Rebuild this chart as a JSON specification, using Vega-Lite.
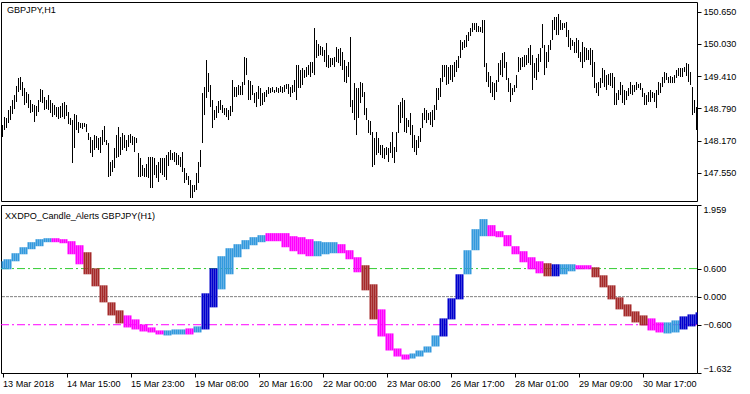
{
"$schema":"https://vega.github.io/schema/vega-lite/v6.json",
"padding":{"left":0,"top":1,"right":0,"bottom":0},
"background":"white",
"bounds":"flush",
"spacing":4,
"config":{"view":{"stroke":"black","strokeWidth":1},"font":"Liberation Sans",
"axis":{"labelFont":"Liberation Sans","labelFontSize":9.1,"labelColor":"black","tickColor":"black","grid":false,"domain":false,"tickSize":4,"labelPadding":2,"labelOverlap":false,"title":null},
"text":{"font":"Liberation Sans","fontSize":9.1,"color":"black"}},
"data":{"values":[
{"i":0,"h":148.469,"l":148.238,"o":0.585,"c":0.756,"s":"up"},
{"i":1,"h":148.623,"l":148.373,"o":0.585,"c":0.799,"s":"up"},
{"i":2,"h":148.604,"l":148.411,"o":0.585,"c":0.799,"s":"up"},
{"i":3,"h":148.758,"l":148.507,"o":0.585,"c":0.799,"s":"up"},
{"i":4,"h":148.835,"l":148.565,"o":0.585,"c":0.799,"s":"up"},
{"i":5,"h":148.950,"l":148.681,"o":0.756,"c":0.928,"s":"up"},
{"i":6,"h":149.046,"l":148.777,"o":0.756,"c":0.928,"s":"up"},
{"i":7,"h":149.220,"l":148.912,"o":0.756,"c":0.928,"s":"up"},
{"i":8,"h":149.374,"l":149.104,"o":0.756,"c":0.928,"s":"up"},
{"i":9,"h":149.393,"l":149.143,"o":0.906,"c":1.056,"s":"up"},
{"i":10,"h":149.297,"l":149.027,"o":0.906,"c":1.056,"s":"up"},
{"i":11,"h":149.181,"l":148.854,"o":0.906,"c":1.056,"s":"up"},
{"i":12,"h":149.104,"l":148.892,"o":0.906,"c":1.056,"s":"up"},
{"i":13,"h":149.066,"l":148.796,"o":1.014,"c":1.164,"s":"up"},
{"i":14,"h":148.950,"l":148.700,"o":1.014,"c":1.164,"s":"up"},
{"i":15,"h":148.873,"l":148.719,"o":1.014,"c":1.164,"s":"up"},
{"i":16,"h":148.854,"l":148.527,"o":1.014,"c":1.164,"s":"up"},
{"i":17,"h":148.835,"l":148.642,"o":1.078,"c":1.228,"s":"up"},
{"i":18,"h":148.950,"l":148.719,"o":1.078,"c":1.228,"s":"up"},
{"i":19,"h":149.162,"l":148.912,"o":1.078,"c":1.228,"s":"up"},
{"i":20,"h":149.143,"l":148.892,"o":1.078,"c":1.228,"s":"up"},
{"i":21,"h":149.008,"l":148.758,"o":1.164,"c":1.249,"s":"up"},
{"i":22,"h":148.950,"l":148.777,"o":1.164,"c":1.249,"s":"up"},
{"i":23,"h":149.046,"l":148.758,"o":1.164,"c":1.249,"s":"up"},
{"i":24,"h":148.950,"l":148.700,"o":1.164,"c":1.249,"s":"up"},
{"i":25,"h":148.892,"l":148.623,"o":1.249,"c":1.164,"s":"dn"},
{"i":26,"h":148.854,"l":148.661,"o":1.249,"c":1.164,"s":"dn"},
{"i":27,"h":148.815,"l":148.623,"o":1.249,"c":1.164,"s":"dn"},
{"i":28,"h":148.815,"l":148.584,"o":1.249,"c":1.164,"s":"dn"},
{"i":29,"h":148.835,"l":148.604,"o":1.228,"c":1.142,"s":"dn"},
{"i":30,"h":148.892,"l":148.623,"o":1.228,"c":1.142,"s":"dn"},
{"i":31,"h":148.912,"l":148.584,"o":1.228,"c":1.142,"s":"dn"},
{"i":32,"h":148.854,"l":148.642,"o":1.228,"c":1.142,"s":"dn"},
{"i":33,"h":148.719,"l":148.488,"o":1.185,"c":0.906,"s":"dn"},
{"i":34,"h":148.604,"l":148.469,"o":1.185,"c":0.906,"s":"dn"},
{"i":35,"h":148.565,"l":147.737,"o":1.185,"c":0.906,"s":"dn"},
{"i":36,"h":148.681,"l":148.026,"o":1.185,"c":0.906,"s":"dn"},
{"i":37,"h":148.661,"l":148.373,"o":1.099,"c":0.692,"s":"dn"},
{"i":38,"h":148.527,"l":148.315,"o":1.099,"c":0.692,"s":"dn"},
{"i":39,"h":148.507,"l":148.411,"o":1.099,"c":0.692,"s":"dn"},
{"i":40,"h":148.507,"l":148.392,"o":1.099,"c":0.692,"s":"dn"},
{"i":41,"h":148.507,"l":148.430,"o":0.949,"c":0.478,"s":"dn2"},
{"i":42,"h":148.488,"l":148.334,"o":0.949,"c":0.478,"s":"dn2"},
{"i":43,"h":148.315,"l":148.180,"o":0.949,"c":0.478,"s":"dn2"},
{"i":44,"h":148.238,"l":147.930,"o":0.949,"c":0.478,"s":"dn2"},
{"i":45,"h":148.180,"l":147.853,"o":0.606,"c":0.221,"s":"dn2"},
{"i":46,"h":148.276,"l":147.988,"o":0.606,"c":0.221,"s":"dn2"},
{"i":47,"h":148.257,"l":148.026,"o":0.606,"c":0.221,"s":"dn2"},
{"i":48,"h":148.219,"l":147.988,"o":0.606,"c":0.221,"s":"dn2"},
{"i":49,"h":148.238,"l":147.930,"o":0.242,"c":-0.122,"s":"dn2"},
{"i":50,"h":148.373,"l":148.084,"o":0.242,"c":-0.122,"s":"dn2"},
{"i":51,"h":148.450,"l":148.142,"o":0.242,"c":-0.122,"s":"dn2"},
{"i":52,"h":148.180,"l":148.084,"o":0.242,"c":-0.122,"s":"dn2"},
{"i":53,"h":148.122,"l":147.468,"o":-0.122,"c":-0.401,"s":"dn2"},
{"i":54,"h":147.757,"l":147.487,"o":-0.122,"c":-0.401,"s":"dn2"},
{"i":55,"h":147.795,"l":147.564,"o":-0.122,"c":-0.401,"s":"dn2"},
{"i":56,"h":148.026,"l":147.641,"o":-0.122,"c":-0.401,"s":"dn2"},
{"i":57,"h":148.276,"l":147.834,"o":-0.293,"c":-0.572,"s":"dn2"},
{"i":58,"h":148.430,"l":147.853,"o":-0.293,"c":-0.572,"s":"dn2"},
{"i":59,"h":148.238,"l":147.891,"o":-0.293,"c":-0.572,"s":"dn2"},
{"i":60,"h":148.315,"l":147.988,"o":-0.293,"c":-0.572,"s":"dn2"},
{"i":61,"h":148.276,"l":148.026,"o":-0.401,"c":-0.658,"s":"dn"},
{"i":62,"h":148.180,"l":147.968,"o":-0.401,"c":-0.658,"s":"dn"},
{"i":63,"h":148.276,"l":148.045,"o":-0.401,"c":-0.658,"s":"dn"},
{"i":64,"h":148.296,"l":148.122,"o":-0.401,"c":-0.658,"s":"dn"},
{"i":65,"h":148.257,"l":148.084,"o":-0.486,"c":-0.701,"s":"dn"},
{"i":66,"h":148.238,"l":147.949,"o":-0.486,"c":-0.701,"s":"dn"},
{"i":67,"h":148.219,"l":148.122,"o":-0.486,"c":-0.701,"s":"dn"},
{"i":68,"h":147.930,"l":147.468,"o":-0.486,"c":-0.701,"s":"dn"},
{"i":69,"h":147.834,"l":147.468,"o":-0.594,"c":-0.744,"s":"dn"},
{"i":70,"h":147.699,"l":147.487,"o":-0.594,"c":-0.744,"s":"dn"},
{"i":71,"h":147.641,"l":147.468,"o":-0.594,"c":-0.744,"s":"dn"},
{"i":72,"h":147.718,"l":147.468,"o":-0.594,"c":-0.744,"s":"dn"},
{"i":73,"h":147.853,"l":147.449,"o":-0.658,"c":-0.765,"s":"dn"},
{"i":74,"h":147.853,"l":147.256,"o":-0.658,"c":-0.765,"s":"dn"},
{"i":75,"h":147.853,"l":147.256,"o":-0.658,"c":-0.765,"s":"dn"},
{"i":76,"h":147.834,"l":147.506,"o":-0.658,"c":-0.765,"s":"dn"},
{"i":77,"h":147.699,"l":147.449,"o":-0.722,"c":-0.808,"s":"dn"},
{"i":78,"h":147.757,"l":147.372,"o":-0.722,"c":-0.808,"s":"dn"},
{"i":79,"h":147.834,"l":147.545,"o":-0.722,"c":-0.808,"s":"dn"},
{"i":80,"h":147.834,"l":147.506,"o":-0.722,"c":-0.808,"s":"dn"},
{"i":81,"h":147.834,"l":147.468,"o":-0.829,"c":-0.722,"s":"up"},
{"i":82,"h":147.891,"l":147.410,"o":-0.829,"c":-0.722,"s":"up"},
{"i":83,"h":147.949,"l":147.680,"o":-0.829,"c":-0.722,"s":"up"},
{"i":84,"h":147.988,"l":147.795,"o":-0.829,"c":-0.722,"s":"up"},
{"i":85,"h":147.930,"l":147.795,"o":-0.808,"c":-0.701,"s":"up"},
{"i":86,"h":147.949,"l":147.757,"o":-0.808,"c":-0.701,"s":"up"},
{"i":87,"h":147.930,"l":147.699,"o":-0.808,"c":-0.701,"s":"up"},
{"i":88,"h":147.891,"l":147.699,"o":-0.808,"c":-0.701,"s":"up"},
{"i":89,"h":147.853,"l":147.660,"o":-0.808,"c":-0.701,"s":"up"},
{"i":90,"h":147.949,"l":147.564,"o":-0.808,"c":-0.701,"s":"up"},
{"i":91,"h":147.641,"l":147.352,"o":-0.808,"c":-0.701,"s":"up"},
{"i":92,"h":147.545,"l":147.410,"o":-0.679,"c":-0.808,"s":"dn"},
{"i":93,"h":147.487,"l":147.314,"o":-0.679,"c":-0.808,"s":"dn"},
{"i":94,"h":147.410,"l":147.064,"o":-0.679,"c":-0.808,"s":"dn"},
{"i":95,"h":147.314,"l":147.064,"o":-0.679,"c":-0.808,"s":"dn"},
{"i":96,"h":147.314,"l":147.179,"o":-0.765,"c":-0.636,"s":"up"},
{"i":97,"h":147.545,"l":147.218,"o":-0.765,"c":-0.636,"s":"up"},
{"i":98,"h":147.757,"l":147.352,"o":-0.765,"c":-0.636,"s":"up"},
{"i":99,"h":147.988,"l":147.660,"o":-0.765,"c":-0.636,"s":"up"},
{"i":100,"h":149.085,"l":148.122,"o":-0.701,"c":0.071,"s":"up2"},
{"i":101,"h":149.200,"l":148.661,"o":-0.701,"c":0.071,"s":"up2"},
{"i":102,"h":149.720,"l":148.989,"o":-0.701,"c":0.071,"s":"up2"},
{"i":103,"h":149.470,"l":149.104,"o":-0.701,"c":0.071,"s":"up2"},
{"i":104,"h":149.239,"l":148.815,"o":-0.229,"c":0.606,"s":"up2"},
{"i":105,"h":148.950,"l":148.411,"o":-0.229,"c":0.606,"s":"up2"},
{"i":106,"h":148.758,"l":148.565,"o":-0.229,"c":0.606,"s":"up2"},
{"i":107,"h":148.835,"l":148.604,"o":-0.229,"c":0.606,"s":"up2"},
{"i":108,"h":148.931,"l":148.700,"o":0.156,"c":0.864,"s":"up"},
{"i":109,"h":148.950,"l":148.758,"o":0.156,"c":0.864,"s":"up"},
{"i":110,"h":148.854,"l":148.700,"o":0.156,"c":0.864,"s":"up"},
{"i":111,"h":148.796,"l":148.661,"o":0.156,"c":0.864,"s":"up"},
{"i":112,"h":148.796,"l":148.623,"o":0.478,"c":1.035,"s":"up"},
{"i":113,"h":148.758,"l":148.565,"o":0.478,"c":1.035,"s":"up"},
{"i":114,"h":148.835,"l":148.642,"o":0.478,"c":1.035,"s":"up"},
{"i":115,"h":149.335,"l":148.719,"o":0.478,"c":1.035,"s":"up"},
{"i":116,"h":149.200,"l":149.008,"o":0.842,"c":1.121,"s":"up"},
{"i":117,"h":149.200,"l":149.008,"o":0.842,"c":1.121,"s":"up"},
{"i":118,"h":149.239,"l":149.046,"o":0.842,"c":1.121,"s":"up"},
{"i":119,"h":149.220,"l":149.046,"o":0.842,"c":1.121,"s":"up"},
{"i":120,"h":149.297,"l":149.046,"o":1.014,"c":1.207,"s":"up"},
{"i":121,"h":149.778,"l":149.239,"o":1.014,"c":1.207,"s":"up"},
{"i":122,"h":149.759,"l":149.431,"o":1.014,"c":1.207,"s":"up"},
{"i":123,"h":149.335,"l":148.950,"o":1.014,"c":1.207,"s":"up"},
{"i":124,"h":149.316,"l":148.950,"o":1.099,"c":1.271,"s":"up"},
{"i":125,"h":149.239,"l":149.046,"o":1.099,"c":1.271,"s":"up"},
{"i":126,"h":149.085,"l":148.892,"o":1.099,"c":1.271,"s":"up"},
{"i":127,"h":149.104,"l":148.815,"o":1.099,"c":1.271,"s":"up"},
{"i":128,"h":149.220,"l":148.969,"o":1.164,"c":1.314,"s":"up"},
{"i":129,"h":149.181,"l":148.835,"o":1.164,"c":1.314,"s":"up"},
{"i":130,"h":149.085,"l":148.854,"o":1.164,"c":1.314,"s":"up"},
{"i":131,"h":149.104,"l":148.912,"o":1.164,"c":1.314,"s":"up"},
{"i":132,"h":149.143,"l":149.008,"o":1.357,"c":1.185,"s":"dn"},
{"i":133,"h":149.200,"l":149.066,"o":1.357,"c":1.185,"s":"dn"},
{"i":134,"h":149.181,"l":149.085,"o":1.357,"c":1.185,"s":"dn"},
{"i":135,"h":149.200,"l":149.104,"o":1.357,"c":1.185,"s":"dn"},
{"i":136,"h":149.143,"l":149.085,"o":1.357,"c":1.185,"s":"dn"},
{"i":137,"h":149.200,"l":149.104,"o":1.357,"c":1.185,"s":"dn"},
{"i":138,"h":149.181,"l":149.085,"o":1.357,"c":1.185,"s":"dn"},
{"i":139,"h":149.220,"l":149.104,"o":1.357,"c":1.185,"s":"dn"},
{"i":140,"h":149.200,"l":149.085,"o":1.357,"c":1.056,"s":"dn"},
{"i":141,"h":149.239,"l":149.104,"o":1.357,"c":1.056,"s":"dn"},
{"i":142,"h":149.258,"l":149.162,"o":1.357,"c":1.056,"s":"dn"},
{"i":143,"h":149.258,"l":149.066,"o":1.357,"c":1.056,"s":"dn"},
{"i":144,"h":149.200,"l":149.008,"o":1.292,"c":0.971,"s":"dn"},
{"i":145,"h":149.239,"l":149.085,"o":1.292,"c":0.971,"s":"dn"},
{"i":146,"h":149.335,"l":149.104,"o":1.292,"c":0.971,"s":"dn"},
{"i":147,"h":149.624,"l":148.950,"o":1.292,"c":0.971,"s":"dn"},
{"i":148,"h":149.624,"l":149.181,"o":1.271,"c":0.906,"s":"dn"},
{"i":149,"h":149.528,"l":149.181,"o":1.271,"c":0.906,"s":"dn"},
{"i":150,"h":149.566,"l":149.239,"o":1.271,"c":0.906,"s":"dn"},
{"i":151,"h":149.528,"l":149.374,"o":1.271,"c":0.906,"s":"dn"},
{"i":152,"h":149.585,"l":149.393,"o":1.228,"c":0.864,"s":"dn"},
{"i":153,"h":149.624,"l":149.431,"o":1.228,"c":0.864,"s":"dn"},
{"i":154,"h":149.682,"l":149.393,"o":1.228,"c":0.864,"s":"dn"},
{"i":155,"h":149.682,"l":149.470,"o":1.228,"c":0.864,"s":"dn"},
{"i":156,"h":150.336,"l":149.431,"o":0.864,"c":1.185,"s":"up"},
{"i":157,"h":150.105,"l":149.759,"o":0.864,"c":1.185,"s":"up"},
{"i":158,"h":150.028,"l":149.797,"o":0.864,"c":1.185,"s":"up"},
{"i":159,"h":149.990,"l":149.816,"o":0.864,"c":1.185,"s":"up"},
{"i":160,"h":149.970,"l":149.797,"o":0.906,"c":1.164,"s":"up"},
{"i":161,"h":149.913,"l":149.682,"o":0.906,"c":1.164,"s":"up"},
{"i":162,"h":150.047,"l":149.585,"o":0.906,"c":1.164,"s":"up"},
{"i":163,"h":149.816,"l":149.566,"o":0.906,"c":1.164,"s":"up"},
{"i":164,"h":149.759,"l":149.585,"o":0.928,"c":1.164,"s":"up"},
{"i":165,"h":149.759,"l":149.624,"o":0.928,"c":1.164,"s":"up"},
{"i":166,"h":149.778,"l":149.585,"o":0.928,"c":1.164,"s":"up"},
{"i":167,"h":149.970,"l":149.682,"o":0.928,"c":1.164,"s":"up"},
{"i":168,"h":149.932,"l":149.662,"o":1.121,"c":0.928,"s":"dn"},
{"i":169,"h":149.951,"l":149.605,"o":1.121,"c":0.928,"s":"dn"},
{"i":170,"h":149.874,"l":149.528,"o":1.121,"c":0.928,"s":"dn"},
{"i":171,"h":149.720,"l":149.297,"o":1.121,"c":0.928,"s":"dn"},
{"i":172,"h":149.605,"l":149.277,"o":0.992,"c":0.799,"s":"dn"},
{"i":173,"h":149.682,"l":149.393,"o":0.992,"c":0.799,"s":"dn"},
{"i":174,"h":150.163,"l":148.815,"o":0.992,"c":0.799,"s":"dn"},
{"i":175,"h":148.950,"l":148.700,"o":0.992,"c":0.799,"s":"dn"},
{"i":176,"h":149.277,"l":148.565,"o":0.842,"c":0.521,"s":"dn"},
{"i":177,"h":149.181,"l":148.276,"o":0.842,"c":0.521,"s":"dn"},
{"i":178,"h":149.181,"l":148.604,"o":0.842,"c":0.521,"s":"dn"},
{"i":179,"h":149.297,"l":148.892,"o":0.842,"c":0.521,"s":"dn"},
{"i":180,"h":149.277,"l":149.008,"o":0.671,"c":0.135,"s":"dn2"},
{"i":181,"h":149.104,"l":148.661,"o":0.671,"c":0.135,"s":"dn2"},
{"i":182,"h":148.796,"l":148.565,"o":0.671,"c":0.135,"s":"dn2"},
{"i":183,"h":148.565,"l":148.315,"o":0.671,"c":0.135,"s":"dn2"},
{"i":184,"h":148.546,"l":148.276,"o":0.264,"c":-0.486,"s":"dn2"},
{"i":185,"h":148.334,"l":147.660,"o":0.264,"c":-0.486,"s":"dn2"},
{"i":186,"h":148.219,"l":147.699,"o":0.264,"c":-0.486,"s":"dn2"},
{"i":187,"h":148.334,"l":147.891,"o":0.264,"c":-0.486,"s":"dn2"},
{"i":188,"h":148.219,"l":147.930,"o":-0.272,"c":-0.851,"s":"dn"},
{"i":189,"h":148.084,"l":147.891,"o":-0.272,"c":-0.851,"s":"dn"},
{"i":190,"h":148.084,"l":147.834,"o":-0.272,"c":-0.851,"s":"dn"},
{"i":191,"h":148.026,"l":147.814,"o":-0.272,"c":-0.851,"s":"dn"},
{"i":192,"h":148.045,"l":147.891,"o":-0.786,"c":-1.151,"s":"dn"},
{"i":193,"h":148.026,"l":147.757,"o":-0.786,"c":-1.151,"s":"dn"},
{"i":194,"h":148.142,"l":147.930,"o":-0.786,"c":-1.151,"s":"dn"},
{"i":195,"h":148.334,"l":147.834,"o":-0.786,"c":-1.151,"s":"dn"},
{"i":196,"h":148.045,"l":147.737,"o":-1.108,"c":-1.279,"s":"dn"},
{"i":197,"h":148.334,"l":147.949,"o":-1.108,"c":-1.279,"s":"dn"},
{"i":198,"h":148.854,"l":148.315,"o":-1.108,"c":-1.279,"s":"dn"},
{"i":199,"h":148.912,"l":148.507,"o":-1.108,"c":-1.279,"s":"dn"},
{"i":200,"h":148.989,"l":148.604,"o":-1.237,"c":-1.344,"s":"dn"},
{"i":201,"h":148.950,"l":148.334,"o":-1.237,"c":-1.344,"s":"dn"},
{"i":202,"h":148.604,"l":148.315,"o":-1.237,"c":-1.344,"s":"dn"},
{"i":203,"h":148.565,"l":148.430,"o":-1.237,"c":-1.344,"s":"dn"},
{"i":204,"h":148.700,"l":148.276,"o":-1.322,"c":-1.215,"s":"up"},
{"i":205,"h":148.469,"l":148.026,"o":-1.322,"c":-1.215,"s":"up"},
{"i":206,"h":148.276,"l":147.949,"o":-1.322,"c":-1.215,"s":"up"},
{"i":207,"h":148.180,"l":147.891,"o":-1.279,"c":-1.151,"s":"up"},
{"i":208,"h":148.257,"l":148.026,"o":-1.279,"c":-1.151,"s":"up"},
{"i":209,"h":148.411,"l":148.142,"o":-1.279,"c":-1.151,"s":"up"},
{"i":210,"h":148.700,"l":148.411,"o":-1.279,"c":-1.151,"s":"up"},
{"i":211,"h":148.796,"l":148.565,"o":-1.194,"c":-1.065,"s":"up"},
{"i":212,"h":148.758,"l":148.507,"o":-1.194,"c":-1.065,"s":"up"},
{"i":213,"h":148.700,"l":148.565,"o":-1.194,"c":-1.065,"s":"up"},
{"i":214,"h":148.719,"l":148.469,"o":-1.194,"c":-1.065,"s":"up"},
{"i":215,"h":148.758,"l":148.430,"o":-1.065,"c":-0.829,"s":"up"},
{"i":216,"h":148.854,"l":148.565,"o":-1.065,"c":-0.829,"s":"up"},
{"i":217,"h":149.181,"l":148.758,"o":-1.065,"c":-0.829,"s":"up"},
{"i":218,"h":149.181,"l":148.950,"o":-1.065,"c":-0.829,"s":"up"},
{"i":219,"h":149.374,"l":149.008,"o":-0.851,"c":-0.465,"s":"up2"},
{"i":220,"h":149.624,"l":149.297,"o":-0.851,"c":-0.465,"s":"up2"},
{"i":221,"h":149.624,"l":149.393,"o":-0.851,"c":-0.465,"s":"up2"},
{"i":222,"h":149.624,"l":149.239,"o":-0.851,"c":-0.465,"s":"up2"},
{"i":223,"h":149.585,"l":149.258,"o":-0.486,"c":-0.036,"s":"up2"},
{"i":224,"h":149.624,"l":149.335,"o":-0.486,"c":-0.036,"s":"up2"},
{"i":225,"h":149.624,"l":149.297,"o":-0.486,"c":-0.036,"s":"up2"},
{"i":226,"h":149.682,"l":149.393,"o":-0.486,"c":-0.036,"s":"up2"},
{"i":227,"h":149.720,"l":149.489,"o":-0.058,"c":0.478,"s":"up2"},
{"i":228,"h":149.797,"l":149.566,"o":-0.058,"c":0.478,"s":"up2"},
{"i":229,"h":150.105,"l":149.759,"o":-0.058,"c":0.478,"s":"up2"},
{"i":230,"h":150.067,"l":149.913,"o":-0.058,"c":0.478,"s":"up2"},
{"i":231,"h":150.105,"l":149.951,"o":0.478,"c":0.992,"s":"up"},
{"i":232,"h":150.201,"l":149.970,"o":0.478,"c":0.992,"s":"up"},
{"i":233,"h":150.259,"l":150.086,"o":0.478,"c":0.992,"s":"up"},
{"i":234,"h":150.336,"l":150.182,"o":0.478,"c":0.992,"s":"up"},
{"i":235,"h":150.432,"l":150.259,"o":0.992,"c":1.442,"s":"up"},
{"i":236,"h":150.432,"l":150.298,"o":0.992,"c":1.442,"s":"up"},
{"i":237,"h":150.432,"l":150.259,"o":0.992,"c":1.442,"s":"up"},
{"i":238,"h":150.375,"l":150.259,"o":0.992,"c":1.442,"s":"up"},
{"i":239,"h":150.355,"l":150.259,"o":1.292,"c":1.657,"s":"up"},
{"i":240,"h":150.490,"l":150.240,"o":1.292,"c":1.657,"s":"up"},
{"i":241,"h":150.490,"l":149.585,"o":1.292,"c":1.657,"s":"up"},
{"i":242,"h":149.662,"l":149.297,"o":1.292,"c":1.657,"s":"up"},
{"i":243,"h":149.489,"l":149.200,"o":1.528,"c":1.292,"s":"dn"},
{"i":244,"h":149.412,"l":149.085,"o":1.528,"c":1.292,"s":"dn"},
{"i":245,"h":149.297,"l":149.008,"o":1.528,"c":1.292,"s":"dn"},
{"i":246,"h":149.277,"l":148.950,"o":1.528,"c":1.292,"s":"dn"},
{"i":247,"h":149.335,"l":149.104,"o":1.399,"c":1.271,"s":"dn"},
{"i":248,"h":149.662,"l":149.297,"o":1.399,"c":1.271,"s":"dn"},
{"i":249,"h":149.720,"l":149.431,"o":1.399,"c":1.271,"s":"dn"},
{"i":250,"h":149.855,"l":149.393,"o":1.399,"c":1.271,"s":"dn"},
{"i":251,"h":149.874,"l":149.566,"o":1.314,"c":1.078,"s":"dn"},
{"i":252,"h":149.682,"l":149.335,"o":1.314,"c":1.078,"s":"dn"},
{"i":253,"h":149.374,"l":149.104,"o":1.314,"c":1.078,"s":"dn"},
{"i":254,"h":149.277,"l":148.912,"o":1.314,"c":1.078,"s":"dn"},
{"i":255,"h":149.181,"l":149.046,"o":1.078,"c":0.906,"s":"dn"},
{"i":256,"h":149.239,"l":149.104,"o":1.078,"c":0.906,"s":"dn"},
{"i":257,"h":149.431,"l":149.181,"o":1.078,"c":0.906,"s":"dn"},
{"i":258,"h":149.778,"l":149.489,"o":1.078,"c":0.906,"s":"dn"},
{"i":259,"h":149.759,"l":149.528,"o":0.971,"c":0.735,"s":"dn"},
{"i":260,"h":149.778,"l":149.585,"o":0.971,"c":0.735,"s":"dn"},
{"i":261,"h":149.816,"l":149.585,"o":0.971,"c":0.735,"s":"dn"},
{"i":262,"h":149.816,"l":149.624,"o":0.971,"c":0.735,"s":"dn"},
{"i":263,"h":149.951,"l":149.662,"o":0.842,"c":0.585,"s":"dn"},
{"i":264,"h":150.009,"l":149.624,"o":0.842,"c":0.585,"s":"dn"},
{"i":265,"h":149.816,"l":149.143,"o":0.842,"c":0.585,"s":"dn"},
{"i":266,"h":149.662,"l":149.374,"o":0.842,"c":0.585,"s":"dn"},
{"i":267,"h":149.759,"l":149.335,"o":0.756,"c":0.499,"s":"dn"},
{"i":268,"h":149.836,"l":149.489,"o":0.756,"c":0.499,"s":"dn"},
{"i":269,"h":149.951,"l":149.682,"o":0.756,"c":0.499,"s":"dn"},
{"i":270,"h":150.413,"l":149.951,"o":0.756,"c":0.499,"s":"dn"},
{"i":271,"h":150.009,"l":149.431,"o":0.714,"c":0.435,"s":"dn2"},
{"i":272,"h":149.874,"l":149.566,"o":0.714,"c":0.435,"s":"dn2"},
{"i":273,"h":150.009,"l":149.682,"o":0.714,"c":0.435,"s":"dn2"},
{"i":274,"h":150.105,"l":149.913,"o":0.714,"c":0.435,"s":"dn2"},
{"i":275,"h":150.490,"l":150.105,"o":0.435,"c":0.692,"s":"up2"},
{"i":276,"h":150.548,"l":150.298,"o":0.435,"c":0.692,"s":"up2"},
{"i":277,"h":150.548,"l":150.201,"o":0.435,"c":0.692,"s":"up2"},
{"i":278,"h":150.606,"l":150.201,"o":0.435,"c":0.692,"s":"up2"},
{"i":279,"h":150.490,"l":150.298,"o":0.478,"c":0.692,"s":"up"},
{"i":280,"h":150.432,"l":150.298,"o":0.478,"c":0.692,"s":"up"},
{"i":281,"h":150.432,"l":150.336,"o":0.478,"c":0.692,"s":"up"},
{"i":282,"h":150.452,"l":150.163,"o":0.478,"c":0.692,"s":"up"},
{"i":283,"h":150.298,"l":149.970,"o":0.542,"c":0.692,"s":"up"},
{"i":284,"h":150.144,"l":149.913,"o":0.542,"c":0.692,"s":"up"},
{"i":285,"h":150.105,"l":149.990,"o":0.542,"c":0.692,"s":"up"},
{"i":286,"h":150.067,"l":149.855,"o":0.542,"c":0.692,"s":"up"},
{"i":287,"h":150.144,"l":149.855,"o":0.671,"c":0.585,"s":"dn"},
{"i":288,"h":150.105,"l":149.759,"o":0.671,"c":0.585,"s":"dn"},
{"i":289,"h":149.874,"l":149.682,"o":0.671,"c":0.585,"s":"dn"},
{"i":290,"h":150.067,"l":149.566,"o":0.671,"c":0.585,"s":"dn"},
{"i":291,"h":149.970,"l":149.682,"o":0.671,"c":0.585,"s":"dn"},
{"i":292,"h":149.951,"l":149.720,"o":0.671,"c":0.585,"s":"dn"},
{"i":293,"h":149.913,"l":149.720,"o":0.671,"c":0.585,"s":"dn"},
{"i":294,"h":149.951,"l":149.624,"o":0.671,"c":0.585,"s":"dn"},
{"i":295,"h":149.913,"l":149.393,"o":0.628,"c":0.414,"s":"dn2"},
{"i":296,"h":149.682,"l":149.181,"o":0.628,"c":0.414,"s":"dn2"},
{"i":297,"h":149.277,"l":149.085,"o":0.628,"c":0.414,"s":"dn2"},
{"i":298,"h":149.297,"l":149.027,"o":0.628,"c":0.414,"s":"dn2"},
{"i":299,"h":149.374,"l":149.181,"o":0.456,"c":0.199,"s":"dn2"},
{"i":300,"h":149.566,"l":149.277,"o":0.456,"c":0.199,"s":"dn2"},
{"i":301,"h":149.528,"l":149.200,"o":0.456,"c":0.199,"s":"dn2"},
{"i":302,"h":149.431,"l":149.143,"o":0.456,"c":0.199,"s":"dn2"},
{"i":303,"h":149.451,"l":149.239,"o":0.242,"c":-0.058,"s":"dn2"},
{"i":304,"h":149.470,"l":149.220,"o":0.242,"c":-0.058,"s":"dn2"},
{"i":305,"h":149.470,"l":149.181,"o":0.242,"c":-0.058,"s":"dn2"},
{"i":306,"h":149.393,"l":148.854,"o":0.242,"c":-0.058,"s":"dn2"},
{"i":307,"h":149.085,"l":148.854,"o":-0.015,"c":-0.272,"s":"dn2"},
{"i":308,"h":149.143,"l":148.950,"o":-0.015,"c":-0.272,"s":"dn2"},
{"i":309,"h":149.297,"l":149.046,"o":-0.015,"c":-0.272,"s":"dn2"},
{"i":310,"h":149.239,"l":148.892,"o":-0.015,"c":-0.272,"s":"dn2"},
{"i":311,"h":149.143,"l":148.854,"o":-0.165,"c":-0.422,"s":"dn2"},
{"i":312,"h":149.123,"l":148.950,"o":-0.165,"c":-0.422,"s":"dn2"},
{"i":313,"h":149.181,"l":149.027,"o":-0.165,"c":-0.422,"s":"dn2"},
{"i":314,"h":149.297,"l":149.066,"o":-0.165,"c":-0.422,"s":"dn2"},
{"i":315,"h":149.239,"l":149.046,"o":-0.315,"c":-0.551,"s":"dn2"},
{"i":316,"h":149.239,"l":149.104,"o":-0.315,"c":-0.551,"s":"dn2"},
{"i":317,"h":149.297,"l":149.143,"o":-0.315,"c":-0.551,"s":"dn2"},
{"i":318,"h":149.258,"l":149.181,"o":-0.315,"c":-0.551,"s":"dn2"},
{"i":319,"h":149.277,"l":149.143,"o":-0.401,"c":-0.615,"s":"dn2"},
{"i":320,"h":149.181,"l":149.008,"o":-0.401,"c":-0.615,"s":"dn2"},
{"i":321,"h":149.085,"l":148.854,"o":-0.401,"c":-0.615,"s":"dn2"},
{"i":322,"h":149.046,"l":148.854,"o":-0.401,"c":-0.615,"s":"dn2"},
{"i":323,"h":149.104,"l":148.912,"o":-0.465,"c":-0.722,"s":"dn"},
{"i":324,"h":149.143,"l":148.912,"o":-0.465,"c":-0.722,"s":"dn"},
{"i":325,"h":149.104,"l":148.989,"o":-0.465,"c":-0.722,"s":"dn"},
{"i":326,"h":149.085,"l":148.912,"o":-0.465,"c":-0.722,"s":"dn"},
{"i":327,"h":149.143,"l":148.796,"o":-0.551,"c":-0.765,"s":"dn"},
{"i":328,"h":149.297,"l":149.046,"o":-0.551,"c":-0.765,"s":"dn"},
{"i":329,"h":149.277,"l":149.085,"o":-0.551,"c":-0.765,"s":"dn"},
{"i":330,"h":149.393,"l":149.200,"o":-0.551,"c":-0.765,"s":"dn"},
{"i":331,"h":149.489,"l":149.277,"o":-0.786,"c":-0.551,"s":"up"},
{"i":332,"h":149.470,"l":149.335,"o":-0.786,"c":-0.551,"s":"up"},
{"i":333,"h":149.393,"l":149.277,"o":-0.786,"c":-0.551,"s":"up"},
{"i":334,"h":149.412,"l":149.277,"o":-0.786,"c":-0.551,"s":"up"},
{"i":335,"h":149.393,"l":149.277,"o":-0.765,"c":-0.508,"s":"up"},
{"i":336,"h":149.431,"l":149.277,"o":-0.765,"c":-0.508,"s":"up"},
{"i":337,"h":149.528,"l":149.374,"o":-0.765,"c":-0.508,"s":"up"},
{"i":338,"h":149.566,"l":149.412,"o":-0.765,"c":-0.508,"s":"up"},
{"i":339,"h":149.566,"l":149.393,"o":-0.701,"c":-0.422,"s":"up2"},
{"i":340,"h":149.566,"l":149.393,"o":-0.701,"c":-0.422,"s":"up2"},
{"i":341,"h":149.585,"l":149.489,"o":-0.701,"c":-0.422,"s":"up2"},
{"i":342,"h":149.662,"l":149.412,"o":-0.701,"c":-0.422,"s":"up2"},
{"i":343,"h":149.643,"l":149.297,"o":-0.636,"c":-0.379,"s":"up2"},
{"i":344,"h":149.489,"l":149.239,"o":-0.636,"c":-0.379,"s":"up2"},
{"i":345,"h":149.200,"l":148.661,"o":-0.636,"c":-0.379,"s":"up2"},
{"i":346,"h":148.950,"l":148.700,"o":-0.636,"c":-0.379,"s":"up2"},
{"i":347,"h":148.815,"l":148.373,"o":-0.594,"c":-0.336,"s":"up2"}
]},
"vconcat":[
{"width":696,"height":199,
 "layer":[
  {"mark":{"type":"rule","color":"black","strokeWidth":1},
   "encoding":{
    "x":{"field":"i","type":"quantitative","scale":{"domain":[-0.75,347.25],"nice":false,"zero":false},"axis":null},
    "y":{"field":"l","type":"quantitative","scale":{"domain":[147.006,150.837],"nice":false,"zero":false},
       "axis":{"orient":"right","values":[147.55,148.17,148.79,149.41,150.03,150.65],"format":".3f","title":null}},
    "y2":{"field":"h"}}},
  {"data":{"values":[{"label":"GBPJPY,H1","x":2.2,"y":150.62}]},
   "mark":{"type":"text","align":"left","baseline":"alphabetic"},
   "encoding":{
    "x":{"field":"x","type":"quantitative","axis":null},
    "y":{"field":"y","type":"quantitative","axis":{"orient":"right","values":[147.55,148.17,148.79,149.41,150.03,150.65],"format":".3f","title":null}},
    "text":{"field":"label"}}}
 ]},
{"width":696,"height":168,
 "layer":[
  {"data":{"values":[{"level":0.6}]},"mark":{"type":"rule","color":"#32CD32","strokeWidth":1,"strokeDash":[8,3,2,3]},
   "encoding":{"y":{"field":"level","type":"quantitative","scale":{"domain":[-1.632,1.959],"nice":false,"zero":false},
     "axis":{"orient":"right","values":[-1.632,-0.6,0,0.6,1.959],"format":".3f","labelFlush":true,"title":null}}}},
  {"data":{"values":[{"level":0}]},"mark":{"type":"rule","color":"#808080","strokeWidth":1,"strokeDash":[3,1]},
   "encoding":{"y":{"field":"level","type":"quantitative","scale":{"domain":[-1.632,1.959],"nice":false,"zero":false},
     "axis":{"orient":"right","values":[-1.632,-0.6,0,0.6,1.959],"format":".3f","labelFlush":true,"title":null}}}},
  {"data":{"values":[{"level":-0.6}]},"mark":{"type":"rule","color":"#FF00FF","strokeWidth":1,"strokeDash":[8,3,2,3]},
   "encoding":{"y":{"field":"level","type":"quantitative","scale":{"domain":[-1.632,1.959],"nice":false,"zero":false},
     "axis":{"orient":"right","values":[-1.632,-0.6,0,0.6,1.959],"format":".3f","labelFlush":true,"title":null}}}},
  {"encoding":{
    "x":{"field":"i","type":"quantitative","scale":{"domain":[-0.75,347.25],"nice":false,"zero":false},
      "axis":{"values":[0,32,64,96,128,160,192,224,256,288,320],"labelAlign":"left","labelPadding":2,"labelFlush":false,"labelBound":false,
        "labelExpr":"['13 Mar 2018','14 Mar 15:00','15 Mar 23:00','19 Mar 08:00','20 Mar 16:00','22 Mar 00:00','23 Mar 08:00','26 Mar 17:00','28 Mar 01:00','29 Mar 09:00','30 Mar 17:00'][round(datum.value/32)]","title":null}},
    "y":{"field":"o","type":"quantitative","scale":{"domain":[-1.632,1.959],"nice":false,"zero":false},
      "axis":{"orient":"right","values":[-1.632,-0.6,0,0.6,1.959],"format":".3f","labelFlush":true,"title":null}},
    "y2":{"field":"c"}},
   "layer":[
    {"transform":[{"filter":"datum.s === 'up'"}],"mark":{"type":"rule","strokeWidth":2,"color":"#3399DD"}},
    {"transform":[{"filter":"datum.s === 'up2'"}],"mark":{"type":"rule","strokeWidth":2,"color":"#0000CD"}},
    {"transform":[{"filter":"datum.s === 'dn'"}],"mark":{"type":"rule","strokeWidth":2,"color":"#FF00FF"}},
    {"transform":[{"filter":"datum.s === 'dn2'"}],"mark":{"type":"rule","strokeWidth":2,"color":"#A52A2A"}}
   ]},
  {"data":{"values":[{"label":"XXDPO_Candle_Alerts GBPJPY(H1)","x":1.25,"y":1.66}]},
   "mark":{"type":"text","align":"left","baseline":"alphabetic"},
   "encoding":{
    "x":{"field":"x","type":"quantitative","axis":{"values":[0,32,64,96,128,160,192,224,256,288,320],"labelAlign":"left","labelPadding":2,"labelFlush":false,"labelBound":false,
        "labelExpr":"['13 Mar 2018','14 Mar 15:00','15 Mar 23:00','19 Mar 08:00','20 Mar 16:00','22 Mar 00:00','23 Mar 08:00','26 Mar 17:00','28 Mar 01:00','29 Mar 09:00','30 Mar 17:00'][round(datum.value/32)]","title":null}},
    "y":{"field":"y","type":"quantitative","axis":{"orient":"right","values":[-1.632,-0.6,0,0.6,1.959],"format":".3f","labelFlush":true,"title":null}},
    "text":{"field":"label"}}}
 ]}
]
}
